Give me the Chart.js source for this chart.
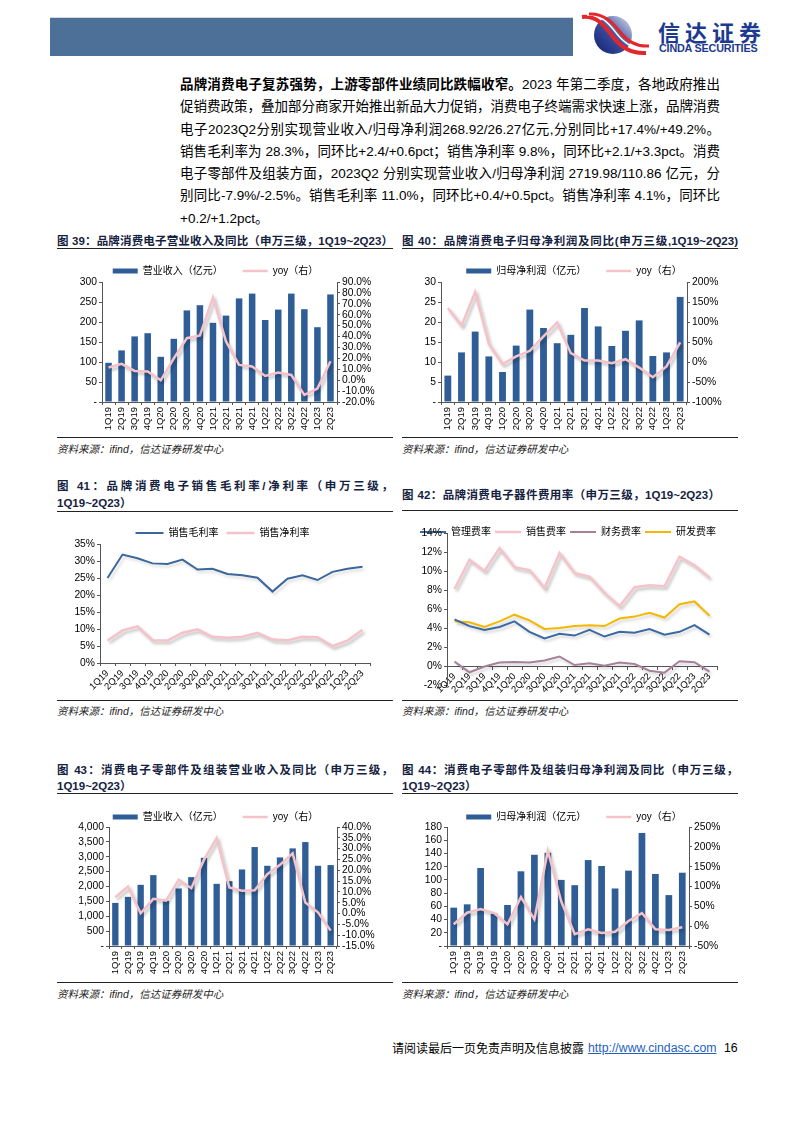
<!DOCTYPE html>
<html><head><meta charset="utf-8">
<script src="https://cdn.jsdelivr.net/npm/chart.js@4.4.0/dist/chart.umd.min.js"></script>
<style>
body{margin:0;width:794px;height:1123px;position:relative;background:#fff;overflow:hidden;font-family:"Liberation Sans",Arial,"Noto Sans CJK SC",sans-serif;color:#000}
.abs{position:absolute}
.para{position:absolute;left:180px;top:74px;width:540px;font-size:13.5px;line-height:22.3px}
.para div{text-align:justify;text-align-last:justify;white-space:nowrap}
.para div.last{text-align-last:left}
.ttl{position:absolute;font-size:11.5px;font-weight:bold;color:#15223f;white-space:nowrap}
.ttl div.j{text-align:justify;text-align-last:justify}
.rule{position:absolute;height:0;border-top:1px solid #222}
.src{position:absolute;font-size:10.5px;font-style:italic;color:#222;white-space:nowrap}
canvas{position:absolute}
</style></head>
<body>
<!-- header -->
<div class="abs" style="left:50px;top:17px;width:523px;height:1px;background:#d8d8d8"></div>
<div class="abs" style="left:50px;top:18px;width:523px;height:38px;background:#4D7098"></div>
<svg class="abs" style="left:580px;top:12px" width="70" height="46" viewBox="0 0 70 46">
 <defs>
  <linearGradient id="lg" x1="0" y1="1" x2="1" y2="0">
   <stop offset="0" stop-color="#0f1f6e"/><stop offset="0.5" stop-color="#3a4f9e"/><stop offset="1" stop-color="#e6e6f2"/>
  </linearGradient>
 </defs>
 <circle cx="33" cy="23" r="19" fill="url(#lg)"/>
 <path d="M2,5 C18,3 26,16 33,25 C40,34 50,42 66,41" fill="none" stroke="#e3262b" stroke-width="4"/>
 <path d="M7,3 C22,2 30,13 37,22 C44,31 54,38 68,37" fill="none" stroke="#fff" stroke-width="1.5"/>
 <path d="M9,2 C24,1 33,11 40,20 C47,29 56,35 69,34" fill="none" stroke="#e3262b" stroke-width="3"/>
</svg>
<div class="abs" style="left:658px;top:18px;font-size:22px;font-weight:bold;letter-spacing:5px;color:#1d3a8f;font-family:'Noto Sans CJK SC',sans-serif;line-height:26px">信达证券</div>
<div class="abs" style="left:659px;top:42px;font-size:10.8px;font-weight:bold;color:#1d3a8f;line-height:12px;letter-spacing:-0.2px">CINDA SECURITIES</div>

<!-- paragraph -->
<div class="para">
<div><b>品牌消费电子复苏强势，上游零部件业绩同比跌幅收窄。</b>2023 年第二季度，各地政府推出</div>
<div>促销费政策，叠加部分商家开始推出新品大力促销，消费电子终端需求快速上涨，品牌消费</div>
<div>电子2023Q2分别实现营业收入/归母净利润268.92/26.27亿元,分别同比+17.4%/+49.2%。</div>
<div>销售毛利率为 28.3%，同环比+2.4/+0.6pct；销售净利率 9.8%，同环比+2.1/+3.3pct。消费</div>
<div>电子零部件及组装方面，2023Q2 分别实现营业收入/归母净利润 2719.98/110.86 亿元，分</div>
<div>别同比-7.9%/-2.5%。销售毛利率 11.0%，同环比+0.4/+0.5pct。销售净利率 4.1%，同环比</div>
<div class="last">+0.2/+1.2pct。</div>
</div>

<!-- titles -->
<div class="ttl" style="left:57px;top:233px;width:336px;line-height:16px"><div class="j">图 39：品牌消费电子营业收入及同比（申万三级，1Q19~2Q23）</div></div>
<div class="rule" style="left:57px;top:248px;width:336px"></div>
<div class="ttl" style="left:402px;top:233px;width:336px;line-height:16px"><div class="j">图 40：品牌消费电子归母净利润及同比(申万三级,1Q19~2Q23)</div></div>
<div class="rule" style="left:402px;top:248px;width:336px"></div>

<div class="ttl" style="left:57px;top:478px;width:336px;line-height:17px"><div class="j">图 41：品牌消费电子销售毛利率/净利率（申万三级，</div><div>1Q19~2Q23）</div></div>
<div class="rule" style="left:57px;top:511px;width:336px"></div>
<div class="ttl" style="left:402px;top:487px;width:318px;line-height:16px"><div class="j">图 42：品牌消费电子器件费用率（申万三级，1Q19~2Q23）</div></div>
<div class="rule" style="left:402px;top:510px;width:336px"></div>

<div class="ttl" style="left:57px;top:763px;width:336px;line-height:15.5px"><div class="j">图 43：消费电子零部件及组装营业收入及同比（申万三级，</div><div>1Q19~2Q23）</div></div>
<div class="rule" style="left:57px;top:793px;width:336px"></div>
<div class="ttl" style="left:402px;top:763px;width:336px;line-height:15.5px"><div class="j">图 44：消费电子零部件及组装归母净利润及同比（申万三级，</div><div>1Q19~2Q23）</div></div>
<div class="rule" style="left:402px;top:793px;width:336px"></div>

<!-- charts -->
<canvas id="c39" width="325" height="190" style="left:55px;top:242px"></canvas>
<canvas id="c40" width="322" height="190" style="left:403px;top:242px"></canvas>
<canvas id="c41" width="325" height="177" style="left:55px;top:516px"></canvas>
<canvas id="c42" width="322" height="186" style="left:403px;top:509px"></canvas>
<canvas id="c43" width="325" height="189" style="left:55px;top:787px"></canvas>
<canvas id="c44" width="322" height="189" style="left:403px;top:787px"></canvas>

<!-- sources -->
<div class="rule" style="left:57px;top:437px;width:336px"></div>
<div class="src" style="left:57px;top:441px">资料来源：ifind，信达证券研发中心</div>
<div class="rule" style="left:402px;top:437px;width:336px"></div>
<div class="src" style="left:402px;top:441px">资料来源：ifind，信达证券研发中心</div>
<div class="rule" style="left:57px;top:700px;width:336px"></div>
<div class="src" style="left:57px;top:703px">资料来源：ifind，信达证券研发中心</div>
<div class="rule" style="left:402px;top:700px;width:336px"></div>
<div class="src" style="left:402px;top:703px">资料来源：ifind，信达证券研发中心</div>
<div class="rule" style="left:57px;top:982px;width:336px"></div>
<div class="src" style="left:57px;top:986px">资料来源：ifind，信达证券研发中心</div>
<div class="rule" style="left:402px;top:982px;width:336px"></div>
<div class="src" style="left:402px;top:986px">资料来源：ifind，信达证券研发中心</div>

<!-- footer -->
<div class="abs" style="left:392px;top:1040px;font-size:12px;line-height:16px;font-family:'Noto Sans CJK SC',sans-serif">请阅读最后一页免责声明及信息披露</div>
<div class="abs" style="left:588px;top:1040px;font-size:12.3px;line-height:16px;color:#1f5fbf;text-decoration:underline">http://www.cindasc.com</div>
<div class="abs" style="left:724px;top:1040px;font-size:12.3px;line-height:16px">16</div>

<script>
// ---------- data ----------
const quarters = ['1Q19','2Q19','3Q19','4Q19','1Q20','2Q20','3Q20','4Q20','1Q21','2Q21','3Q21','4Q21','1Q22','2Q22','3Q22','4Q22','1Q23','2Q23'];

const brandRevenue    = [98,129,164,172,113,158,229,242,198,216,259,271,205,231,271,232,187,268.92];
const brandRevenueYoy = [11.6,15,8.5,7.9,-0.1,20,38.5,41,76,35.5,14,12.5,3.9,7,4.8,-13.5,-7.7,17.4];
const brandProfit     = [6.6,12.4,17.6,11.4,7.5,14.1,23.1,18.5,14.7,16.8,23.5,18.9,14.0,17.8,20.4,11.5,12.4,26.27];
const brandProfitYoy  = [135,91,175,45,-5,14,28,64,99,22,3.7,3.7,-3,7,-14,-38,-11,49.2];

const grossMargin = [25.0,31.9,30.8,29.3,29.1,30.4,27.5,27.7,26.2,25.8,25.1,21.0,24.8,25.8,24.4,26.8,27.7,28.3];
const netMargin   = [6.6,9.6,10.8,6.7,6.6,8.9,9.9,7.7,7.4,7.7,8.9,6.9,6.7,7.7,7.6,5.0,6.6,9.8];

const mgmtExpRate  = [4.9,4.2,3.8,4.1,4.7,3.6,2.9,3.4,3.2,3.8,3.1,3.6,3.5,3.9,3.3,3.6,4.3,3.3];
const salesExpRate = [8.1,11.2,10.0,12.4,10.4,10.1,8.2,11.9,9.8,9.4,7.7,6.3,8.3,8.5,8.4,11.5,10.6,9.3];
const finExpRate   = [0.46,-0.66,-0.06,0.36,0.43,0.36,0.57,1.0,0.1,0.3,0.04,0.36,0.2,-0.5,-0.7,0.5,0.4,-0.6];
const rdExpRate    = [4.7,4.6,4.1,4.7,5.4,4.8,3.9,4.0,4.2,4.3,4.2,5.0,5.2,5.6,5.1,6.5,6.8,5.3];

const compRevenue    = [1449,1652,2056,2382,1517,1933,2315,2966,2090,2180,2573,3326,2697,2978,3281,3494,2697,2719.98];
const compRevenueYoy = [7.5,12.5,0.1,6.8,6,15.6,11.7,24.9,34.9,12,10.5,10.8,18.2,22.5,27.8,5.1,0.6,-7.9];
const compProfit     = [58,63,118,49,62,113,138,141,100,92,130,121,87,114,171,109,77,110.86];
const compProfitYoy  = [5,34,43,33,5,73,17,190,62,-20,-8,-17,-14,13,33,-8,-9.5,-2.5];

// tick label values
const ticks39L = [0,50,100,150,200,250,300];
const ticks39R = [-20,-10,0,10,20,30,40,50,60,70,80,90];
const ticks40L = [0,5,10,15,20,25,30];
const ticks40R = [-100,-50,0,50,100,150,200];
const ticks41  = [0,5,10,15,20,25,30,35];
const ticks42  = [-2,0,2,4,6,8,10,12,14];
const ticks43L = [0,500,1000,1500,2000,2500,3000,3500,4000];
const ticks43R = [-15,-10,-5,0,5,10,15,20,25,30,35,40];
const ticks44L = [0,20,40,60,80,100,120,140,160,180];
const ticks44R = [-50,0,50,100,150,200,250];

// ---------- styling ----------
const BAR = '#2F5E97';
const PINK = '#F6C2C9';
const SHADOW = 'rgba(0,0,0,0.25)';

Chart.defaults.font.family = "'Liberation Sans', Arial, 'Noto Sans CJK SC', sans-serif";
Chart.defaults.color = '#000';
Chart.defaults.animation = false;
Chart.defaults.responsive = false;
Chart.defaults.devicePixelRatio = 1;
Chart.defaults.plugins.tooltip.enabled = false;

const lineShadow = {
  id: 'lineShadow',
  beforeDatasetDraw(chart, args) {
    const ds = chart.data.datasets[args.index];
    if (ds.shadow) {
      const c = chart.ctx; c.save();
      c.shadowColor = ds.shadow; c.shadowBlur = 3; c.shadowOffsetX = 2; c.shadowOffsetY = 2.5;
    }
  },
  afterDatasetDraw(chart, args) {
    const ds = chart.data.datasets[args.index];
    if (ds.shadow) chart.ctx.restore();
  }
};
const legendShift = {
  id: 'legendShift',
  afterLayout(chart, args, opts) {
    const l = chart.legend; if (!l) return;
    const dx = opts.dx || 0, dy = opts.dy || 0;
    l.left += dx; l.right += dx; l.top += dy; l.bottom += dy;
  }
};

function range(t) { return {min: t[0], max: t[t.length - 1], step: t[1] - t[0]}; }

function yAxis(t, pos, width, fmt, size) {
  const r = range(t);
  return {
    position: pos, min: r.min, max: r.max,
    ticks: {stepSize: r.step, autoSkip: false, padding: 2, color: '#000', font: {size: size || 10.3}, callback: fmt},
    grid: {drawOnChartArea: false, tickLength: 3, color: '#555'},
    border: {display: true, color: '#555'},
    afterFit(s) { s.width = width; }
  };
}
function xAxis(rot, extra) {
  return Object.assign({
    offset: true,
    grid: {offset: true, drawOnChartArea: false, tickLength: 3, color: '#555'},
    border: {display: true, color: '#555'},
    ticks: {minRotation: rot, maxRotation: rot, autoSkip: false, padding: 2, font: {size: 9.5}, color: '#000'},
    afterFit(s) { s.height = 30; }
  }, extra || {});
}
function legend(pad, boxW) {
  return {
    display: true, position: 'top',
    labels: {
      usePointStyle: true, pointStyleWidth: boxW || 25, boxHeight: 5, padding: pad, color: '#000',
      font: {size: 10, family: "'Liberation Sans', 'Noto Sans CJK SC', sans-serif"},
      sort: (a, b) => a.datasetIndex - b.datasetIndex
    }
  };
}
function lineDs(label, data, color, width, axis, shadow) {
  return {
    type: 'line', label, data, yAxisID: axis,
    borderColor: color, backgroundColor: color, borderWidth: width,
    pointRadius: 0, pointHoverRadius: 0, pointStyle: 'line',
    pointBorderColor: color, pointBackgroundColor: color, pointBorderWidth: width,
    tension: 0, fill: false, order: 0, shadow: shadow
  };
}
function barDs(label, data) {
  return {type: 'bar', label, data, yAxisID: 'y', backgroundColor: BAR, borderWidth: 0,
          barPercentage: 0.5, categoryPercentage: 1, pointStyle: 'rect', order: 1};
}
const dash0 = v => v === 0 ? '-' : v;
const pct1 = v => v.toFixed(1) + '%';
const pct0 = v => v + '%';

function barLineChart(id, barLabel, bars, yoy, tL, tR, fmtL, fmtR, wL, wR, dx, dy) {
  new Chart(document.getElementById(id), {
    data: {
      labels: quarters,
      datasets: [barDs(barLabel, bars), lineDs('yoy（右）', yoy, PINK, 2.5, 'y1', SHADOW)]
    },
    options: {
      layout: {padding: 0},
      scales: {
        x: xAxis(90),
        y: yAxis(tL, 'left', wL, fmtL),
        y1: yAxis(tR, 'right', wR, fmtR)
      },
      plugins: {legend: legend(20), legendShift: {dx, dy}}
    },
    plugins: [lineShadow, legendShift]
  });
}

barLineChart('c39', '营业收入（亿元）', brandRevenue, brandRevenueYoy, ticks39L, ticks39R, dash0, pct1, 47, 43, -2, 4);
barLineChart('c40', '归母净利润（亿元）', brandProfit, brandProfitYoy, ticks40L, ticks40R, dash0, pct0, 38, 38, 10, 4);
barLineChart('c43', '营业收入（亿元）', compRevenue, compRevenueYoy, ticks43L, ticks43R,
  v => v === 0 ? '-' : v.toLocaleString('en-US'), pct1, 54, 43, -2, 5);
barLineChart('c44', '归母净利润（亿元）', compProfit, compProfitYoy, ticks44L, ticks44R, dash0, pct0, 44, 36, 10, 5);

// chart 41
new Chart(document.getElementById('c41'), {
  type: 'line',
  data: {
    labels: quarters,
    datasets: [
      lineDs('销售毛利率', grossMargin, '#3B679D', 2, 'y', 'rgba(0,0,0,0.15)'),
      lineDs('销售净利率', netMargin, PINK, 2.5, 'y', SHADOW)
    ]
  },
  options: {
    layout: {padding: {right: 10}},
    scales: {x: xAxis(45), y: yAxis(ticks41, 'left', 45, pct0)},
    plugins: {legend: legend(8, 28), legendShift: {dx: 10, dy: 4}}
  },
  plugins: [lineShadow, legendShift]
});

// chart 42
new Chart(document.getElementById('c42'), {
  type: 'line',
  data: {
    labels: quarters,
    datasets: [
      lineDs('管理费率', mgmtExpRate, '#3A69A3', 2, 'y', 'rgba(0,0,0,0.18)'),
      lineDs('销售费率', salesExpRate, '#F7C3CB', 2.5, 'y', SHADOW),
      lineDs('财务费率', finExpRate, '#A68199', 2, 'y', 'rgba(0,0,0,0.18)'),
      lineDs('研发费率', rdExpRate, '#F5B800', 2, 'y', 'rgba(0,0,0,0.18)')
    ]
  },
  options: {
    layout: {padding: {right: 8, bottom: 10}},
    scales: {
      x: xAxis(45, {position: {y: 0}}),
      y: yAxis(ticks42, 'left', 44, pct0)
    },
    plugins: {legend: legend(4, 26), legendShift: {dx: 8, dy: 14}}
  },
  plugins: [lineShadow, legendShift]
});
</script>
</body></html>
